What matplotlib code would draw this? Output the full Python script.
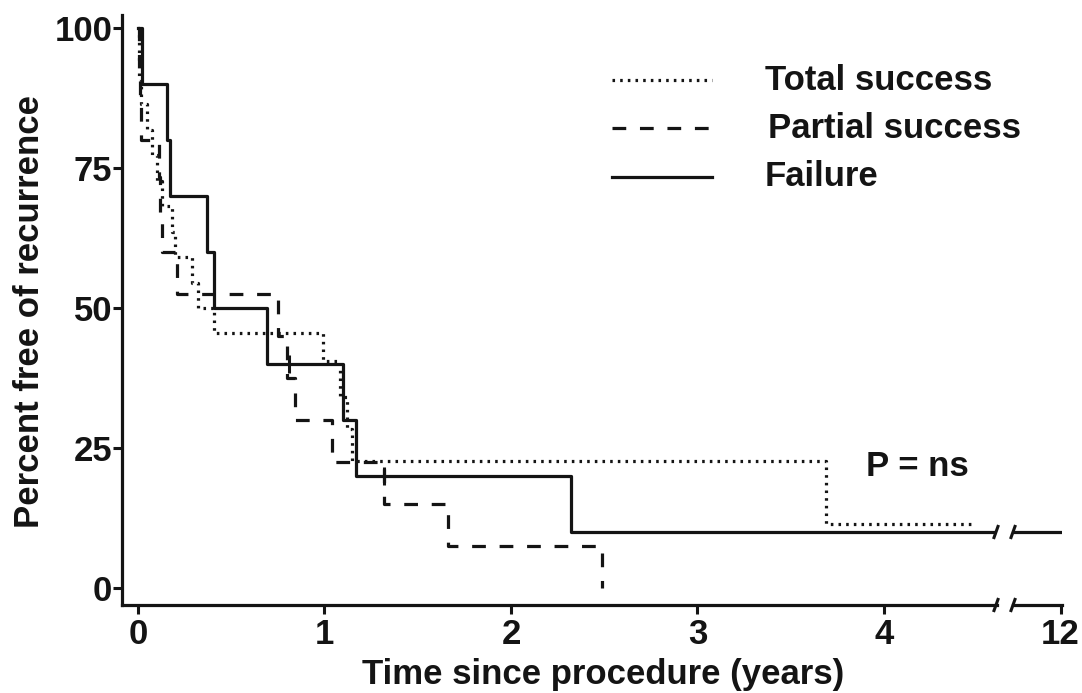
import matplotlib
matplotlib.use('Agg')
import matplotlib.pyplot as plt
from matplotlib.lines import Line2D

# ---------------- data ----------------
total_t = [0, 0.004, 0.008, 0.015, 0.05, 0.075, 0.10, 0.13, 0.18, 0.20, 0.29, 0.32, 0.41,
           0.99, 1.085, 1.12, 1.15, 3.69, 4.49]
total_v = [100, 95.5, 90.9, 86.4, 81.8, 77.3, 72.7, 68.2, 63.6, 59.1, 54.5, 50.0, 45.5,
           40.5, 34.1, 28.4, 22.7, 11.35, 11.35]

partial_t = [0, 0.005, 0.01, 0.015, 0.11, 0.12, 0.13, 0.21, 0.75, 0.80, 0.84, 1.04,
             1.32, 1.66, 2.49]
partial_v = [100, 93.3, 86.7, 80.0, 73.3, 66.7, 60.0, 52.5, 45.0, 37.5, 30.0, 22.5,
             15.0, 7.5, 0.0]

failure_t = [0, 0.02, 0.155, 0.17, 0.37, 0.41, 0.69, 1.10, 1.17, 2.32, 12.0]
failure_v = [100, 90, 80, 70, 60, 50, 40, 30, 20, 10, 10]
failure_cens_t = [0.81, 1.32]
failure_cens_v = [40, 20]

labels = ['Total success', 'Partial success', 'Failure']
yticks = [0, 25, 50, 75, 100]
xticks_left = [0, 1, 2, 3, 4]
xticks_right = [12]

# ---------------- figure ----------------
plt.rcParams['font.family'] = ['Liberation Sans', 'DejaVu Sans']
plt.rcParams['font.weight'] = 'bold'
W, H = 1082, 693
fig = plt.figure(figsize=(W / 100, H / 100), dpi=100)


def fx(px):
    return px / W


def fy(py):
    return 1 - py / H


col = '#141414'
lw = 2.3
styles = {
    'total': dict(color=col, lw=2.3, dashes=(0.8, 1.6)),
    'partial': dict(color=col, lw=lw, dashes=(4.3, 4.3)),
    'failure': dict(color=col, lw=lw, ls='-'),
}

axL = fig.add_axes([fx(122), fy(605), fx(997) - fx(122), fy(15) - fy(605)])
axR = fig.add_axes([fx(1013), fy(605), fx(1062) - fx(1013), fy(15) - fy(605)], sharey=axL)

for ax in (axL, axR):
    ax.step(total_t, total_v, where='post', **styles['total'])
    ax.step(partial_t, partial_v, where='post', **styles['partial'])
    ax.step(failure_t, failure_v, where='post', **styles['failure'])
    ax.plot(failure_cens_t, failure_cens_v, ls='none', marker='|', ms=13, mew=2.2, color=col)
    ax.spines['top'].set_visible(False)
    ax.spines['right'].set_visible(False)
    for s in ('left', 'bottom'):
        ax.spines[s].set_linewidth(2.3)
        ax.spines[s].set_color(col)
    ax.tick_params(axis='both', direction='out', length=6.5, width=2.2, color=col,
                   labelsize=25, pad=3, labelcolor=col)

axL.tick_params(axis='y', pad=0.5)
axL.set_xlim(-0.0858, 4.606)
axR.set_xlim(11.745, 12.008)
axL.set_ylim(-3.04, 102.3)
axL.set_xticks(xticks_left)
axR.set_xticks(xticks_right)
axL.set_yticks(yticks)
axR.spines['left'].set_visible(False)
axR.tick_params(axis='y', left=False, labelleft=False)

# break marks
for (px, py) in [(996, 605), (1013, 605), (996, 532), (1013, 532)]:
    fig.add_artist(Line2D([fx(px - 2.5), fx(px + 2.5)], [fy(py + 7), fy(py - 7)],
                          color=col, lw=2.2, solid_capstyle='butt'))

# legend (drawn manually)
leg_y = [80, 128, 177]
leg_tx = [765, 768, 765]
for key, y, tx, lab in zip(['total', 'partial', 'failure'], leg_y, leg_tx, labels):
    st = dict(styles[key])
    fig.add_artist(Line2D([fx(612), fx(712)], [fy(y), fy(y)], **st))
    fig.text(fx(tx), fy(y), lab, fontsize=25, fontweight='bold', va='center', ha='left', color=col)

fig.text(fx(866), fy(466), 'P = ns', fontsize=25, fontweight='bold', va='center', ha='left', color=col)

fig.text(fx(30), fy(312), 'Percent free of recurrence', fontsize=25, fontweight='bold',
         rotation=90, va='center', ha='center', color=col)
fig.text(fx(603), fy(684), 'Time since procedure (years)', fontsize=25, fontweight='bold',
         va='baseline', ha='center', color=col)

fig.savefig('out.png', dpi=100)
